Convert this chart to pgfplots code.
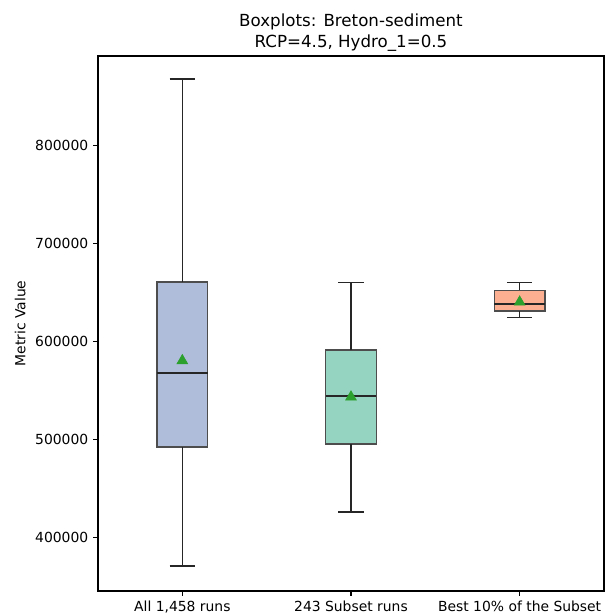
\documentclass[border=0pt]{standalone}
\usepackage{fontspec}
\setmainfont{DejaVu Sans}
\usepackage{pgfplots}
\pgfplotsset{compat=1.18}
\definecolor{boxA}{RGB}{175,189,219}
\definecolor{boxB}{RGB}{148,212,192}
\definecolor{boxC}{RGB}{253,175,145}
\definecolor{edgeC}{RGB}{77,77,77}
\definecolor{meanC}{RGB}{44,160,44}
\begin{document}
\begin{tikzpicture}
\begin{axis}[
  scale only axis, width=364.3pt, height=385.2pt,
  xmin=0.5, xmax=3.5, ymin=345.15, ymax=891.6,
  xtick={1,2,3},
  xticklabels={{All 1,458 runs},{243 Subset runs},{Best 10\% of the Subset}},
  ytick={400,500,600,700,800},
  yticklabels={400000,500000,600000,700000,800000},
  scaled y ticks=false,
  ticklabel style={font=\fontsize{10}{12}\selectfont},
  ylabel={Metric Value},
  ylabel style={font=\fontsize{10}{12}\selectfont},
  title={Boxplots: Breton-sediment\\RCP=4.5, Hydro\_1=0.5},
  title style={align=center, font=\fontsize{12}{15}\selectfont, yshift=-6pt},
  tick align=outside, tick pos=left, major tick length=3.5pt,
  axis line style={black, line width=0.8pt},
  major tick style={black, line width=0.8pt},
  whisk/.style={black!85, line width=1pt, mark=none},
  boxst/.style={draw=edgeC, line width=1pt, mark=none},
]
% box 1: lw 370.7, lq 492.2, med 567.8, uq 660.8, uw 868.15
\addplot[boxst, fill=boxA] coordinates {(0.85,492.2) (1.15,492.2) (1.15,660.8) (0.85,660.8)} -- cycle;
\addplot[whisk] coordinates {(1,370.7) (1,492.2)};
\addplot[whisk] coordinates {(1,660.8) (1,868.15)};
\addplot[whisk] coordinates {(0.925,370.7) (1.075,370.7)};
\addplot[whisk] coordinates {(0.925,868.15) (1.075,868.15)};
\addplot[whisk] coordinates {(0.85,567.8) (1.15,567.8)};
% box 2: lw 425.8, lq 495.3, med 544.3, uq 591.3, uw 660.5
\addplot[boxst, fill=boxB] coordinates {(1.85,495.3) (2.15,495.3) (2.15,591.3) (1.85,591.3)} -- cycle;
\addplot[whisk] coordinates {(2,425.8) (2,495.3)};
\addplot[whisk] coordinates {(2,591.3) (2,660.5)};
\addplot[whisk] coordinates {(1.925,425.8) (2.075,425.8)};
\addplot[whisk] coordinates {(1.925,660.5) (2.075,660.5)};
\addplot[whisk] coordinates {(1.85,544.3) (2.15,544.3)};
% box 3: lw 624.7, lq 631.2, med 638.3, uq 652.3, uw 660.5
\addplot[boxst, fill=boxC] coordinates {(2.85,631.2) (3.15,631.2) (3.15,652.3) (2.85,652.3)} -- cycle;
\addplot[whisk] coordinates {(3,624.7) (3,631.2)};
\addplot[whisk] coordinates {(3,652.3) (3,660.5)};
\addplot[whisk] coordinates {(2.925,624.7) (3.075,624.7)};
\addplot[whisk] coordinates {(2.925,660.5) (3.075,660.5)};
\addplot[whisk] coordinates {(2.85,638.3) (3.15,638.3)};
% means
\addplot[only marks, mark=triangle*, mark size=4.5pt, color=meanC] coordinates {(1,580.4) (2,543.3) (3,640.3)};
\end{axis}
\pgfresetboundingbox
\path (-70.56pt,-15.84pt) rectangle (369.36pt,425.52pt);
\end{tikzpicture}
\end{document}
